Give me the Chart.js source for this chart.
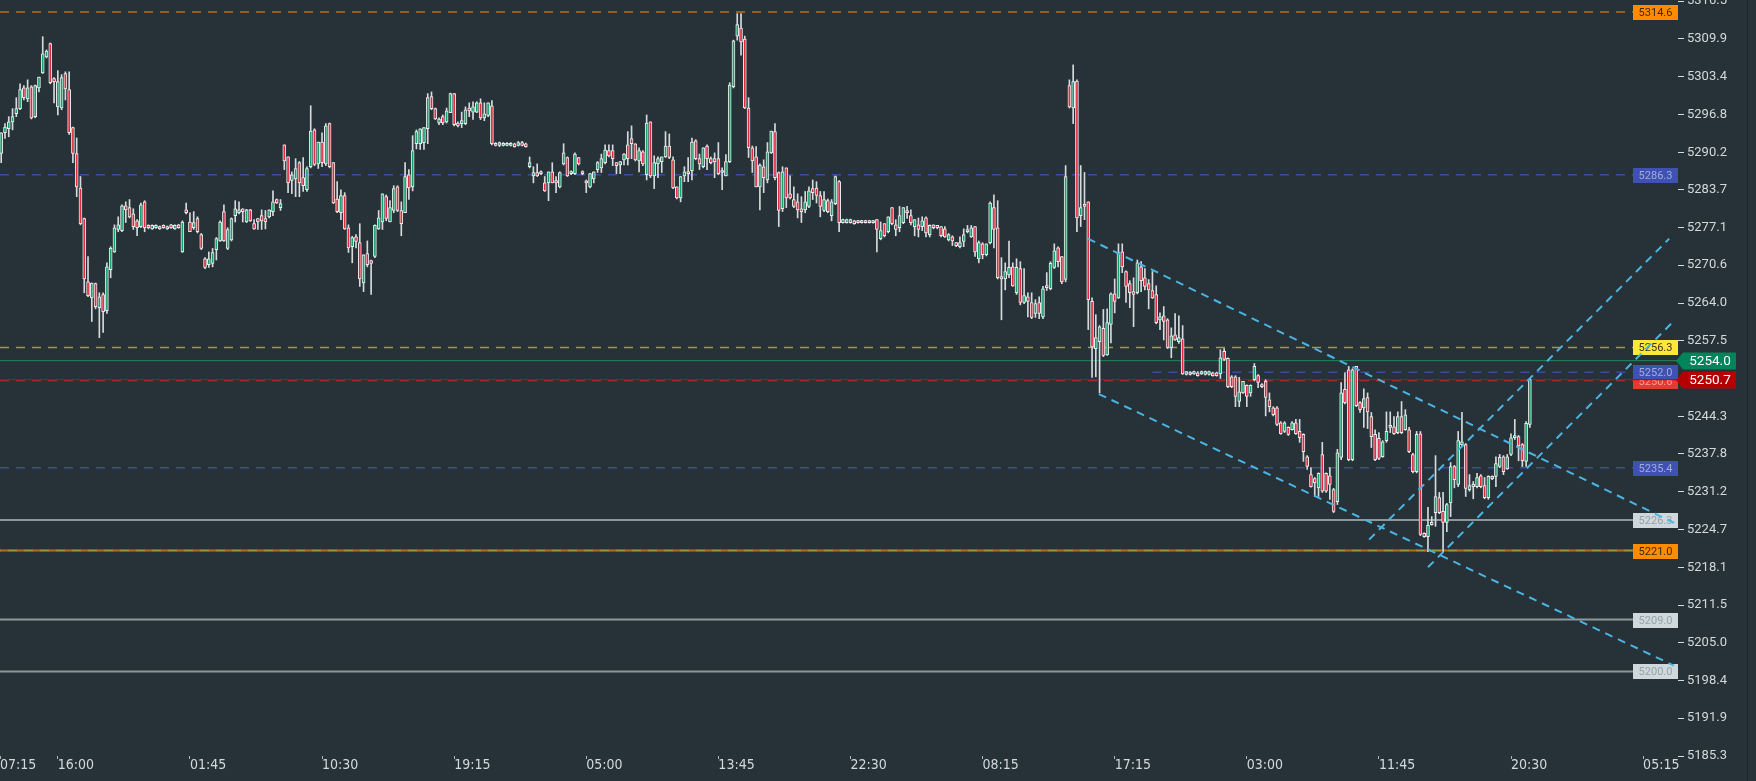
<!DOCTYPE html>
<html>
<head>
<meta charset="utf-8">
<script src="https://cdn.jsdelivr.net/npm/chart.js@4.4.1/dist/chart.umd.min.js"></script>
<style>
  html, body { margin: 0; padding: 0; background: #263238; overflow: hidden; }
  canvas { display: block; }
</style>
</head>
<body>
<canvas id="priceChart" width="1756" height="781"></canvas>
<script>
// ============================================
// Data (15 min candles)
// ============================================
const opens = [
  5290.0,5293.6,5294.3,5295.5,5296.9,5297.8,5301.4,5299.5,5301.6,5296.4,
  5301.4,5304.0,5306.8,5309.1,5303.0,5298.1,5297.9,5303.9,5301.1,5294.5,
  5290.0,5284.0,5278.7,5267.7,5264.9,5267.4,5263.2,5265.5,5262.7,5269.8,
  5272.9,5276.8,5276.6,5280.9,5280.6,5279.5,5278.3,5277.3,5281.6,5277.5,
  5276.9,5277.1,5276.9,5277.5,5276.9,5277.6,5276.9,5277.6,5272.9,5280.2,
  5278.1,5277.1,5278.7,5275.9,5271.7,5270.7,5270.9,5273.3,5274.8,5279.9,
  5273.5,5275.0,5279.2,5279.7,5280.4,5278.1,5280.2,5277.8,5278.7,5279.2,
  5278.7,5279.0,5279.9,5282.0,5280.6,5291.5,5289.4,5285.3,5285.6,5288.4,
  5285.8,5283.7,5287.7,5294.1,5288.2,5292.0,5288.2,5295.2,5288.4,5282.1,
  5279.7,5282.7,5277.1,5273.8,5275.5,5274.5,5267.5,5272.6,5271.4,5272.1,
  5276.9,5278.1,5282.5,5278.1,5280.1,5284.2,5280.1,5279.7,5286.3,5284.2,
  5291.7,5291.7,5291.9,5294.3,5299.9,5297.8,5295.3,5296.4,5295.5,5297.1,
  5300.4,5295.3,5295.2,5295.2,5297.9,5297.2,5297.2,5298.8,5296.2,5296.6,
  5298.3,5291.7,5291.4,5291.4,5291.4,5291.4,5291.7,5291.4,5291.9,5291.7,
  5287.7,5286.1,5286.7,5286.5,5284.9,5284.9,5286.8,5285.3,5284.2,5288.2,
  5289.3,5286.5,5286.5,5289.3,5286.8,5285.1,5284.2,5285.6,5287.2,5287.5,
  5288.4,5290.5,5290.5,5288.4,5288.0,5288.9,5291.5,5292.6,5291.7,5288.7,
  5290.3,5286.3,5295.5,5286.1,5288.2,5288.6,5289.4,5291.3,5288.9,5284.2,
  5282.3,5286.1,5286.8,5287.0,5292.2,5289.1,5287.7,5291.3,5289.1,5289.1,
  5289.1,5286.7,5286.1,5288.6,5301.6,5310.4,5311.8,5309.9,5297.9,5291.0,
  5289.4,5284.2,5287.7,5285.4,5290.1,5293.8,5286.7,5280.4,5287.5,5283.0,
  5282.0,5281.6,5280.4,5280.2,5280.8,5283.9,5284.0,5282.7,5280.1,5281.8,
  5279.2,5281.3,5285.1,5278.0,5278.0,5278.0,5278.3,5278.0,5278.0,5278.0,
  5278.0,5278.3,5278.5,5275.2,5277.8,5276.4,5280.6,5277.6,5277.1,5278.0,
  5280.1,5279.2,5277.3,5277.6,5277.3,5278.8,5275.9,5277.6,5277.5,5277.3,
  5276.9,5275.0,5275.5,5274.5,5273.8,5274.7,5276.4,5275.5,5277.3,5271.7,
  5274.3,5272.4,5274.5,5280.6,5277.1,5268.6,5268.2,5268.9,5270.3,5265.8,
  5270.0,5264.1,5265.1,5264.1,5262.2,5264.1,5261.6,5267.0,5266.5,5270.2,
  5273.6,5272.1,5268.1,5301.8,5297.9,5302.6,5279.2,5281.1,5281.6,5264.3,
  5256.1,5257.3,5259.6,5255.0,5260.3,5265.6,5264.9,5272.9,5269.5,5267.4,
  5266.0,5265.8,5270.3,5268.4,5267.4,5266.2,5265.5,5261.1,5261.8,5261.1,
  5256.3,5258.5,5257.3,5257.8,5251.6,5251.9,5251.7,5251.9,5251.7,5251.6,
  5251.6,5251.9,5251.9,5251.7,5255.6,5254.4,5251.2,5251.2,5246.9,5248.4,
  5249.7,5248.4,5250.7,5251.4,5249.8,5250.4,5247.2,5245.8,5245.8,5243.2,
  5241.7,5242.4,5242.0,5243.2,5241.7,5241.2,5237.3,5234.2,5233.5,5231.9,
  5237.7,5234.4,5234.0,5231.6,5229.5,5237.2,5249.0,5252.4,5236.8,5253.0,
  5246.7,5245.8,5247.6,5244.3,5241.2,5240.5,5237.3,5240.1,5242.4,5242.5,
  5241.5,5244.3,5242.0,5242.0,5237.7,5234.7,5241.3,5224.0,5223.4,5225.9,
  5227.6,5230.2,5227.8,5225.9,5229.3,5235.6,5232.5,5239.4,5239.4,5231.6,
  5232.5,5232.1,5234.0,5232.3,5230.2,5233.5,5233.9,5235.6,5237.3,5235.2,
  5237.7,5240.6,5240.8,5239.4,5236.5,5242.9
];
const highs = [
  5293.6,5295.2,5296.4,5297.8,5299.7,5302.1,5301.8,5302.8,5301.8,5301.9,
  5303.3,5310.3,5308.0,5309.2,5303.2,5304.4,5303.7,5304.2,5304.2,5294.6,
  5292.7,5286.0,5278.8,5272.1,5267.5,5267.5,5265.8,5265.8,5271.0,5273.8,
  5277.6,5279.0,5281.1,5281.6,5282.0,5280.4,5278.5,5281.4,5281.8,5277.6,
  5277.6,5277.6,5277.4,5277.6,5277.4,5277.7,5277.6,5277.7,5278.3,5281.4,
  5279.7,5279.9,5279.0,5276.1,5271.9,5272.9,5273.5,5275.4,5278.3,5281.1,
  5277.1,5278.8,5281.8,5281.6,5280.4,5280.3,5280.3,5278.5,5278.7,5280.2,
  5280.1,5280.2,5283.5,5282.1,5282.0,5291.5,5289.4,5286.8,5289.1,5288.6,
  5289.3,5287.7,5298.3,5294.3,5292.0,5293.6,5295.2,5295.3,5288.4,5285.1,
  5283.7,5283.2,5277.6,5275.6,5275.9,5277.8,5272.4,5274.8,5271.5,5277.6,
  5280.1,5283.0,5282.8,5281.8,5284.4,5284.4,5281.6,5288.4,5287.2,5293.1,
  5294.1,5294.3,5294.5,5300.4,5300.7,5297.9,5296.2,5296.7,5297.9,5300.5,
  5300.4,5295.5,5297.2,5298.1,5298.8,5299.0,5299.0,5299.5,5298.8,5298.8,
  5299.2,5291.9,5292.0,5291.9,5291.9,5291.9,5291.8,5292.1,5292.1,5291.8,
  5289.4,5287.7,5288.2,5287.0,5286.0,5286.8,5288.4,5286.0,5286.8,5291.7,
  5289.4,5287.0,5290.1,5289.3,5287.0,5285.4,5286.5,5286.8,5288.6,5289.9,
  5291.5,5291.5,5291.5,5288.4,5288.6,5290.0,5293.8,5294.8,5291.7,5291.0,
  5290.5,5296.7,5295.5,5289.6,5289.4,5289.4,5293.8,5293.4,5289.4,5284.2,
  5286.0,5287.7,5289.3,5292.7,5292.4,5289.9,5291.0,5291.5,5289.4,5290.1,
  5291.9,5287.5,5289.8,5302.3,5309.7,5314.3,5314.3,5310.4,5299.7,5291.3,
  5291.2,5288.2,5288.9,5291.9,5293.9,5295.2,5286.8,5287.7,5287.5,5286.1,
  5284.2,5283.0,5282.5,5283.4,5284.2,5285.4,5285.1,5283.4,5283.4,5282.1,
  5282.0,5286.1,5285.3,5278.6,5278.6,5278.6,5278.4,5278.4,5278.4,5278.4,
  5278.4,5278.4,5278.5,5278.1,5277.8,5279.0,5280.6,5278.5,5280.8,5280.6,
  5280.8,5280.2,5278.5,5278.8,5279.0,5279.0,5277.6,5277.6,5277.5,5277.3,
  5277.3,5276.1,5275.7,5274.5,5275.5,5276.9,5277.5,5277.5,5277.3,5274.8,
  5274.5,5274.3,5281.6,5282.8,5281.8,5271.9,5271.0,5274.8,5271.0,5271.7,
  5271.2,5270.0,5265.8,5265.8,5264.6,5265.1,5266.9,5269.3,5271.2,5274.3,
  5273.8,5272.1,5287.9,5302.8,5305.4,5302.8,5287.9,5286.7,5281.6,5264.9,
  5262.0,5260.1,5262.9,5263.0,5265.8,5268.2,5274.3,5274.3,5269.6,5267.9,
  5268.4,5271.5,5271.2,5270.0,5268.1,5269.5,5267.0,5262.3,5263.4,5261.3,
  5259.7,5262.2,5261.8,5260.1,5252.1,5252.1,5252.2,5252.1,5252.2,5252.2,
  5252.2,5252.0,5252.0,5255.9,5256.1,5254.5,5251.4,5251.4,5251.1,5250.4,
  5249.8,5249.8,5253.5,5251.6,5250.0,5250.7,5248.4,5246.0,5246.0,5243.4,
  5243.4,5242.5,5243.4,5243.8,5243.8,5241.3,5237.5,5235.4,5233.7,5234.5,
  5239.8,5234.5,5235.4,5231.8,5238.6,5250.2,5251.9,5253.0,5252.6,5253.0,
  5246.9,5249.1,5248.4,5245.0,5242.0,5241.5,5240.1,5245.1,5245.1,5244.3,
  5245.1,5246.9,5245.5,5242.4,5237.9,5241.7,5241.7,5224.1,5228.5,5226.9,
  5237.5,5231.1,5231.1,5229.2,5236.3,5235.8,5241.7,5245.0,5239.6,5234.2,
  5233.0,5234.4,5234.2,5233.7,5234.0,5234.0,5237.3,5237.7,5237.5,5237.7,
  5241.3,5243.8,5241.0,5239.6,5243.4,5250.9
];
const lows = [
  5288.4,5292.6,5292.9,5294.1,5296.4,5297.6,5299.3,5299.0,5296.0,5296.2,
  5300.7,5303.9,5306.6,5302.1,5298.8,5296.7,5297.6,5299.3,5293.3,5288.4,
  5282.5,5277.6,5265.8,5265.1,5260.8,5263.0,5258.0,5258.9,5262.2,5268.4,
  5272.8,5276.4,5276.4,5278.0,5278.8,5276.8,5275.7,5277.1,5276.4,5276.9,
  5276.8,5277.0,5276.8,5277.0,5276.8,5277.0,5276.8,5277.0,5272.8,5279.5,
  5276.4,5276.8,5276.2,5273.3,5270.0,5270.2,5270.3,5271.5,5274.7,5274.7,
  5273.3,5274.8,5278.1,5279.5,5278.1,5278.0,5278.2,5276.8,5276.8,5276.8,
  5276.9,5278.8,5279.2,5281.3,5280.1,5287.2,5283.2,5283.0,5282.5,5282.5,
  5283.4,5283.4,5287.5,5287.9,5287.4,5287.7,5287.9,5287.5,5281.3,5279.7,
  5278.5,5276.8,5272.8,5271.0,5273.6,5266.9,5266.0,5270.3,5265.5,5271.9,
  5276.8,5276.8,5278.3,5278.1,5279.7,5279.9,5275.7,5279.7,5282.0,5283.5,
  5290.8,5290.7,5290.7,5291.7,5297.6,5295.9,5295.0,5295.0,5295.3,5297.1,
  5294.8,5294.6,5294.5,5295.0,5296.4,5295.9,5297.1,5295.9,5295.7,5296.4,
  5291.5,5291.3,5291.2,5291.3,5291.3,5291.3,5291.1,5291.3,5291.3,5291.1,
  5287.5,5284.9,5286.0,5286.3,5283.4,5281.8,5284.9,5283.2,5284.0,5288.0,
  5286.0,5286.3,5286.3,5288.0,5286.3,5283.2,5284.0,5284.9,5286.7,5286.7,
  5288.2,5289.4,5287.9,5286.5,5286.5,5288.0,5288.0,5289.1,5288.7,5286.8,
  5287.9,5285.4,5285.8,5283.9,5285.8,5286.7,5289.3,5289.1,5283.9,5282.1,
  5281.6,5285.1,5285.1,5285.4,5288.9,5287.2,5287.5,5287.2,5288.2,5285.8,
  5286.3,5283.7,5286.1,5288.4,5301.4,5309.7,5307.1,5297.8,5289.3,5286.7,
  5284.2,5280.2,5283.2,5284.9,5290.0,5285.4,5277.3,5279.9,5280.6,5282.1,
  5280.6,5278.8,5278.0,5279.7,5280.6,5282.0,5281.4,5279.0,5279.9,5279.7,
  5278.3,5281.1,5276.4,5277.9,5277.9,5277.9,5277.7,5277.9,5277.9,5277.9,
  5277.9,5277.9,5272.9,5275.0,5275.5,5276.2,5277.6,5275.7,5276.4,5277.8,
  5278.7,5277.6,5275.7,5275.5,5276.6,5275.5,5275.5,5276.9,5276.9,5275.5,
  5275.4,5274.8,5274.0,5273.8,5273.6,5273.8,5276.2,5275.4,5272.1,5271.0,
  5271.7,5272.2,5274.3,5273.6,5268.2,5261.1,5266.3,5268.4,5266.9,5265.5,
  5263.7,5263.9,5261.6,5261.3,5261.5,5261.3,5261.3,5266.2,5266.3,5270.0,
  5270.3,5267.4,5267.7,5297.9,5295.2,5276.4,5277.3,5278.5,5259.4,5251.1,
  5251.2,5248.4,5254.7,5254.9,5257.1,5262.3,5264.8,5269.3,5264.1,5263.2,
  5259.9,5265.6,5266.0,5266.3,5263.0,5264.8,5260.4,5259.4,5257.6,5256.1,
  5254.5,5257.5,5257.0,5251.6,5251.5,5251.5,5251.6,5251.3,5251.6,5251.5,
  5251.5,5251.3,5251.3,5250.9,5254.0,5249.3,5249.3,5246.0,5246.0,5248.3,
  5246.0,5247.8,5250.5,5249.3,5249.3,5244.4,5245.1,5244.4,5242.7,5241.2,
  5241.5,5241.0,5241.9,5241.2,5239.8,5236.5,5235.1,5232.0,5230.4,5230.4,
  5231.1,5231.1,5229.9,5227.6,5229.0,5236.8,5246.5,5236.6,5236.6,5246.0,
  5245.0,5242.4,5242.2,5238.9,5236.6,5236.8,5237.2,5239.8,5241.5,5241.2,
  5241.3,5241.3,5241.9,5238.0,5234.5,5234.5,5223.6,5223.3,5220.8,5225.4,
  5225.2,5227.4,5220.8,5224.3,5226.9,5231.9,5232.1,5239.1,5230.4,5231.3,
  5230.0,5231.9,5231.9,5230.0,5229.9,5233.3,5232.1,5235.4,5234.2,5235.1,
  5237.5,5240.3,5236.6,5235.6,5235.6,5242.4
];
const closes = [
  5293.6,5294.6,5295.5,5296.4,5297.8,5301.1,5299.7,5301.4,5296.2,5301.8,
  5303.3,5307.3,5307.8,5302.3,5302.5,5302.5,5303.2,5301.2,5293.6,5290.0,
  5284.2,5277.8,5268.2,5265.3,5267.5,5263.4,5265.1,5262.5,5270.3,5273.5,
  5277.1,5277.6,5280.9,5280.2,5279.0,5277.3,5277.1,5281.1,5277.1,5277.1,
  5277.5,5277.5,5277.3,5277.1,5277.3,5277.1,5277.5,5277.1,5278.1,5279.7,
  5276.4,5278.0,5276.4,5273.5,5270.2,5271.7,5272.8,5275.2,5278.1,5274.8,
  5276.8,5278.7,5280.4,5280.2,5279.9,5280.2,5278.3,5276.9,5278.1,5278.3,
  5278.1,5280.2,5281.6,5281.4,5281.3,5288.7,5284.9,5286.3,5287.4,5284.9,
  5284.4,5287.4,5293.9,5288.1,5292.0,5288.4,5294.8,5287.7,5281.4,5279.9,
  5282.7,5276.9,5273.6,5275.4,5274.7,5268.2,5272.4,5270.7,5270.9,5277.5,
  5278.8,5283.0,5278.7,5280.6,5283.9,5280.1,5277.8,5286.0,5284.0,5290.5,
  5293.8,5294.3,5294.5,5299.7,5297.8,5296.0,5296.0,5295.3,5297.4,5300.4,
  5295.0,5294.8,5295.7,5297.6,5297.4,5298.1,5298.8,5296.2,5296.9,5298.8,
  5291.7,5291.4,5291.9,5291.7,5291.7,5291.7,5291.2,5291.9,5291.4,5291.2,
  5288.4,5286.7,5286.1,5286.8,5283.5,5286.8,5284.9,5284.9,5286.7,5290.1,
  5286.1,5286.8,5289.9,5288.2,5286.5,5284.9,5286.5,5286.8,5288.4,5289.1,
  5290.6,5289.6,5289.1,5287.9,5288.6,5289.9,5289.1,5291.7,5288.9,5290.5,
  5288.2,5295.3,5286.1,5288.4,5289.1,5289.4,5291.3,5289.3,5284.0,5282.3,
  5286.0,5286.8,5286.5,5292.0,5289.1,5288.2,5291.0,5289.1,5288.4,5288.6,
  5286.5,5287.0,5288.6,5301.9,5309.6,5312.4,5309.4,5297.9,5291.0,5288.7,
  5284.2,5288.0,5285.8,5290.3,5293.9,5285.8,5280.1,5286.8,5282.3,5282.3,
  5280.8,5280.2,5279.9,5281.6,5283.5,5283.2,5282.7,5280.8,5282.0,5279.9,
  5281.6,5286.0,5278.0,5278.5,5278.5,5278.5,5277.8,5278.3,5278.3,5278.3,
  5278.3,5278.0,5276.8,5276.6,5275.7,5279.0,5277.8,5276.8,5279.2,5280.6,
  5279.7,5278.0,5278.5,5276.8,5278.3,5276.2,5277.5,5277.1,5277.1,5275.7,
  5275.5,5275.9,5274.8,5274.0,5274.5,5275.9,5276.8,5277.1,5272.9,5274.5,
  5272.4,5274.3,5281.4,5276.8,5268.4,5268.2,5269.5,5270.2,5267.0,5270.2,
  5264.1,5265.3,5264.3,5261.5,5263.9,5262.2,5266.5,5266.7,5270.9,5273.1,
  5271.2,5267.7,5286.0,5298.1,5302.5,5278.8,5280.6,5280.8,5264.6,5256.4,
  5258.0,5259.9,5254.9,5260.6,5265.6,5264.3,5272.8,5270.3,5266.9,5265.8,
  5265.5,5271.0,5267.9,5266.9,5266.3,5264.9,5260.6,5261.6,5260.8,5256.3,
  5258.3,5257.6,5258.0,5251.7,5252.1,5251.6,5252.1,5251.4,5252.1,5252.1,
  5252.1,5251.4,5251.4,5254.5,5254.2,5249.5,5249.5,5247.8,5248.6,5250.4,
  5247.8,5249.7,5253.0,5250.2,5249.5,5247.6,5246.0,5244.6,5242.9,5241.3,
  5243.2,5241.2,5243.2,5241.3,5240.6,5238.2,5235.6,5232.1,5232.8,5234.4,
  5231.3,5231.3,5232.5,5227.8,5238.0,5248.4,5246.7,5236.8,5252.4,5246.2,
  5245.5,5247.4,5245.1,5240.8,5236.8,5237.0,5239.9,5241.7,5242.7,5241.3,
  5244.3,5241.5,5244.6,5238.2,5234.7,5241.2,5223.8,5223.4,5225.4,5225.5,
  5230.4,5227.6,5225.9,5229.0,5235.6,5233.3,5240.1,5239.9,5231.8,5232.3,
  5232.1,5233.7,5232.1,5230.2,5233.9,5233.9,5236.1,5237.2,5234.7,5237.3,
  5240.6,5241.0,5239.2,5236.6,5243.1,5250.7
];

// time axis: labels every 35 bars, first one clipped at the left edge
const firstTimeLabel = '07:15';
const timeTickBars = [15, 50, 85, 120, 155, 190, 225, 260, 295, 330, 365, 400, 435];
const timeTickLabels = ['16:00', '01:45', '10:30', '19:15', '05:00', '13:45', '22:30',
                        '08:15', '17:15', '03:00', '11:45', '20:30', '05:15'];

// price axis labels as printed
const priceTickLabels = ['5185.3', '5191.9', '5198.4', '5205.0', '5211.5', '5218.1', '5224.7',
  '5231.2', '5237.8', '5244.3', '5250.9', '5257.5', '5264.0', '5270.6', '5277.1', '5283.7',
  '5290.2', '5296.8', '5303.4', '5309.9', '5316.5'];

// horizontal price levels
const levelPrices = [5314.6, 5286.3, 5256.3, 5254.0, 5252.0, 5250.5, 5250.7, 5235.4, 5226.3, 5221.0, 5209.0, 5200.0];
const levelLabels = ['5314.6', '5286.3', '5256.3', '5254.0', '5252.0', '5250.6', '5250.7', '5235.4', '5226.3', '5221.0', '5209.0', '5200.0'];
const levelFromBar = [null, null, null, null, 305, null, null, null, null, null, null, null];

// drawn trend channel (bar index / price of both ends)
const trendFromBar   = [287.9, 290.8, 362.4, 378.0];
const trendFromPrice = [5275.2, 5248.2, 5222.9, 5218.1];
const trendToBar     = [443.2, 443.2, 441.9, 442.7];
const trendToPrice   = [5225.8, 5201.0, 5275.2, 5260.6];

// ============================================
// Styles
// ============================================
const BG = '#263238';
const UP = '#17a06a';
const DOWN = '#e02b3f';
const OUTLINE = '#e9ecee';
const AXIS_TEXT = '#d3d9dc';
const X_MIN = -0.32;
const X_MAX = 444.24;
const TAG_LEFT_BAR = 432.3;   // where the small price tags start

const levelStyles = [
  { line: '#b56d1e', dash: [9, 7], width: 1.5, tag: '#ff8c00', text: '#3d2a0c', kind: 'box' },
  { line: '#3c4c9c', dash: [9, 7], width: 1.5, tag: '#3f51b5', text: '#a3acd8', kind: 'box' },
  { line: '#a09b3c', dash: [9, 7], width: 1.5, tag: '#fbe83b', text: '#3a3616', kind: 'box' },
  { line: '#1b8a5c', dash: [],     width: 1,   tag: '#00845a', text: '#ffffff', kind: 'arrow' },
  { line: '#3c4c9c', dash: [9, 7], width: 1.5, tag: '#3f51b5', text: '#a3acd8', kind: 'box' },
  { line: '#c62828', dash: [9, 7], width: 1,   tag: '#e53935', text: '#f6a19c', kind: 'box' },
  { line: '#cc0000', dash: [],     width: 1.2, tag: '#b50000', text: '#ffffff', kind: 'arrow' },
  { line: '#3c4c9c', dash: [9, 7], width: 1.5, tag: '#3f51b5', text: '#a3acd8', kind: 'box' },
  { line: '#8e979b', dash: [],     width: 2,   tag: '#cfd8dc', text: '#95a3aa', kind: 'box' },
  { line: '#b56d1e', dash: [9, 7], width: 2,   tag: '#ff8c00', text: '#3d2a0c', kind: 'box', line2: '#9d9a3c' },
  { line: '#8e979b', dash: [],     width: 2,   tag: '#cfd8dc', text: '#95a3aa', kind: 'box' },
  { line: '#8e979b', dash: [],     width: 2,   tag: '#cfd8dc', text: '#95a3aa', kind: 'box' }
];
// tags painted in this order (hidden red one first so the blue tag covers it)
const tagOrder = [5, 0, 1, 2, 4, 7, 8, 9, 10, 11, 3, 6];

// ============================================
// Datasets
// ============================================
const wickData = opens.map((o, i) => ({ x: i, y: [lows[i], highs[i]] }));
const bodyData = opens.map((o, i) => ({ x: i, y: [o, closes[i]] }));
const bodyColors = opens.map((o, i) => (closes[i] >= o ? UP : DOWN));

const datasets = [];

// trend lines on top
trendFromBar.forEach((x1, k) => {
  datasets.push({
    type: 'line',
    data: [{ x: x1, y: trendFromPrice[k] }, { x: trendToBar[k], y: trendToPrice[k] }],
    borderColor: '#4bb4e2',
    borderWidth: 2,
    borderDash: [8, 6],
    pointRadius: 0,
    order: 0
  });
});

datasets.push({
  type: 'bar',
  data: bodyData,
  backgroundColor: bodyColors,
  borderColor: OUTLINE,
  borderWidth: 1,
  borderSkipped: false,
  barThickness: 3,
  minBarLength: 2,
  grouped: false,
  order: 1
});

datasets.push({
  type: 'bar',
  data: wickData,
  backgroundColor: '#d6dadd',
  borderWidth: 0,
  barThickness: 1,
  grouped: false,
  order: 2
});

levelPrices.forEach((p, k) => {
  const st = levelStyles[k];
  const from = levelFromBar[k] == null ? X_MIN : levelFromBar[k];
  const to = st.kind === 'box' ? TAG_LEFT_BAR : X_MAX;
  datasets.push({
    type: 'line',
    data: [{ x: from, y: p }, { x: to, y: p }],
    borderColor: st.line,
    borderWidth: st.width,
    borderDash: st.dash,
    pointRadius: 0,
    order: 3
  });
  if (st.line2) {
    datasets.push({
      type: 'line',
      data: [{ x: from, y: p }, { x: to, y: p }],
      borderColor: st.line2,
      borderWidth: st.width,
      borderDash: st.dash,
      borderDashOffset: 8,
      pointRadius: 0,
      order: 3
    });
  }
});

// ============================================
// Price tags
// ============================================
const tagPlugin = {
  id: 'priceTags',
  beforeDatasetsDraw(chart) {
    const { ctx, chartArea, scales } = chart;
    ctx.save();
    tagOrder.forEach(k => {
      const st = levelStyles[k];
      const y = Math.round(scales.y.getPixelForValue(levelPrices[k]));
      if (st.kind === 'box') {
        const x = chartArea.right - 45;
        ctx.fillStyle = st.tag;
        ctx.fillRect(x, y - 7, 45, 15);
        ctx.fillStyle = st.text;
        ctx.font = '11px Roboto';
        ctx.textAlign = 'center';
        ctx.textBaseline = 'middle';
        ctx.fillText(levelLabels[k], x + 22.5, y + 1);
      } else {
        const x = chartArea.right - 2;
        ctx.fillStyle = st.tag;
        ctx.beginPath();
        ctx.moveTo(x, y);
        ctx.lineTo(x + 7, y - 8.5);
        ctx.lineTo(x + 60, y - 8.5);
        ctx.lineTo(x + 60, y + 8.5);
        ctx.lineTo(x + 7, y + 8.5);
        ctx.closePath();
        ctx.fill();
        ctx.fillStyle = st.text;
        ctx.font = '13.5px Roboto';
        ctx.textAlign = 'center';
        ctx.textBaseline = 'middle';
        ctx.fillText(levelLabels[k], x + 34, y + 1);
      }
    });
    ctx.restore();
  },
  afterDraw(chart) {
    const { ctx } = chart;
    ctx.save();
    ctx.fillStyle = '#1d262b';
    ctx.fillRect(1747, 0, 1, chart.height);
    ctx.restore();
  }
};

const bgPlugin = {
  id: 'bg',
  beforeDraw(chart) {
    const { ctx } = chart;
    ctx.save();
    ctx.fillStyle = BG;
    ctx.fillRect(0, 0, chart.width, chart.height);
    ctx.restore();
  }
};

// ============================================
// Chart
// ============================================
const priceTickValues = priceTickLabels.map(Number);

new Chart(document.getElementById('priceChart'), {
  type: 'bar',
  data: { datasets },
  options: {
    responsive: false,
    devicePixelRatio: 1,
    animation: false,
    events: [],
    layout: { padding: { top: 1, left: 0, right: 0, bottom: 0 } },
    plugins: { legend: { display: false }, tooltip: { enabled: false } },
    scales: {
      x: {
        type: 'linear',
        min: X_MIN,
        max: X_MAX,
        offset: false,
        border: { display: false },
        grid: { drawOnChartArea: false, drawTicks: true, tickLength: 3, tickColor: '#aeb7bb', offset: false },
        ticks: {
          autoSkip: false,
          maxRotation: 0,
          align: 'start',
          padding: -2,
          color: AXIS_TEXT,
          font: { family: "'Liberation Sans Narrow', 'DejaVu Sans Condensed', Roboto, sans-serif", size: 14 },
          callback: (v) => {
            const k = timeTickBars.indexOf(v);
            return k >= 0 ? timeTickLabels[k] : firstTimeLabel;
          }
        },
        afterBuildTicks: (s) => {
          s.ticks = [{ value: X_MIN }].concat(timeTickBars.map(v => ({ value: v })));
        },
        afterFit: (s) => {
          s.height = 25;
          s.paddingLeft = 0;
          s.paddingRight = 0;
        }
      },
      y: {
        type: 'linear',
        position: 'right',
        min: 5185.3,
        max: 5316.5,
        border: { display: false },
        grid: { drawOnChartArea: false, drawTicks: true, tickLength: 6, tickColor: AXIS_TEXT },
        ticks: {
          padding: 3,
          color: AXIS_TEXT,
          font: { family: 'Roboto', size: 13 },
          callback: (v) => priceTickLabels[priceTickValues.indexOf(v)]
        },
        afterBuildTicks: (s) => { s.ticks = priceTickValues.map(v => ({ value: v })); },
        afterFit: (s) => {
          s.width = 78;
          s.paddingTop = 0;
          s.paddingBottom = 0;
        }
      }
    }
  },
  plugins: [bgPlugin, tagPlugin]
});
</script>
</body>
</html>
